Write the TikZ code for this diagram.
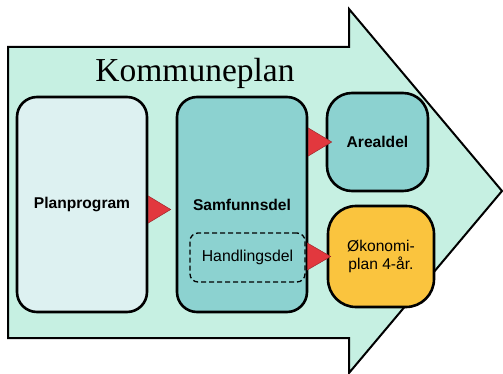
\documentclass[tikz,border=0pt]{standalone}
\usepackage{fontspec}
\setmainfont{Liberation Sans}
\newfontfamily\titlefont{Liberation Serif}
\usetikzlibrary{calc}
\definecolor{mint}{RGB}{198,240,226}
\definecolor{paleteal}{RGB}{221,241,241}
\definecolor{teal2}{RGB}{140,210,208}
\definecolor{gold}{RGB}{250,196,62}
\definecolor{redtri}{RGB}{226,56,62}
\begin{document}
\begin{tikzpicture}[x=1pt,y=-1pt,
  box/.style={draw=black,line width=2.6pt,rectangle,align=center,font=\fontsize{15.6}{18.3}\selectfont},
  tri/.style={fill=redtri,draw=redtri!70!black,line width=0.5pt,line join=miter}]
\useasboundingbox (0,0) rectangle (503,374);
% big arrow
\draw[fill=mint,line width=2pt,line join=miter,miter limit=3]
  (8,47) -- (349,47) -- (349,9) -- (502,191) -- (349,373) -- (349,338) -- (8,338) -- cycle;
\node[anchor=base,font=\titlefont\fontsize{33.5}{36}\selectfont] (title) at (195,82) {Kommuneplan};
% boxes
\node[box,fill=paleteal,rounded corners=20pt,minimum width=130pt,minimum height=215pt] (plan) at (82,204.5) {\bfseries Planprogram};
\node[box,fill=teal2,rounded corners=20pt,minimum width=130pt,minimum height=215pt] (samf) at (242,204.5) {\bfseries Samfunnsdel};
\node[draw=black,dash pattern=on 5pt off 3pt,line width=1.3pt,rounded corners=8pt,minimum width=115pt,minimum height=49pt,font=\fontsize{15.8}{18.3}\selectfont] (hand) at (247.5,257.5) {Handlingsdel};
\node[box,fill=teal2,rounded corners=25pt,minimum width=101pt,minimum height=98pt] (areal) at (377.5,142) {\bfseries Arealdel};
\node[box,fill=gold,rounded corners=28pt,minimum width=106pt,minimum height=101pt] (okon) at (381,256.5) {Økonomi-\\plan 4-år.};
% red triangle connectors
\coordinate (t1) at ([yshift=-5pt]plan.east);
\filldraw[tri] ([yshift=13.5pt]t1) -- ([yshift=-13.5pt]t1) -- ([xshift=-5pt]samf.west |- t1) -- cycle;
\coordinate (t2) at (samf.east |- areal.west);
\filldraw[tri] ([yshift=14pt]t2) -- ([yshift=-14pt]t2) -- ([xshift=6pt]areal.west) -- cycle;
\coordinate (t3) at ([xshift=-1pt]samf.east |- okon.west);
\filldraw[tri] ([yshift=13.5pt]t3) -- ([yshift=-13.5pt]t3) -- ([xshift=4pt]okon.west) -- cycle;
\end{tikzpicture}
\end{document}
